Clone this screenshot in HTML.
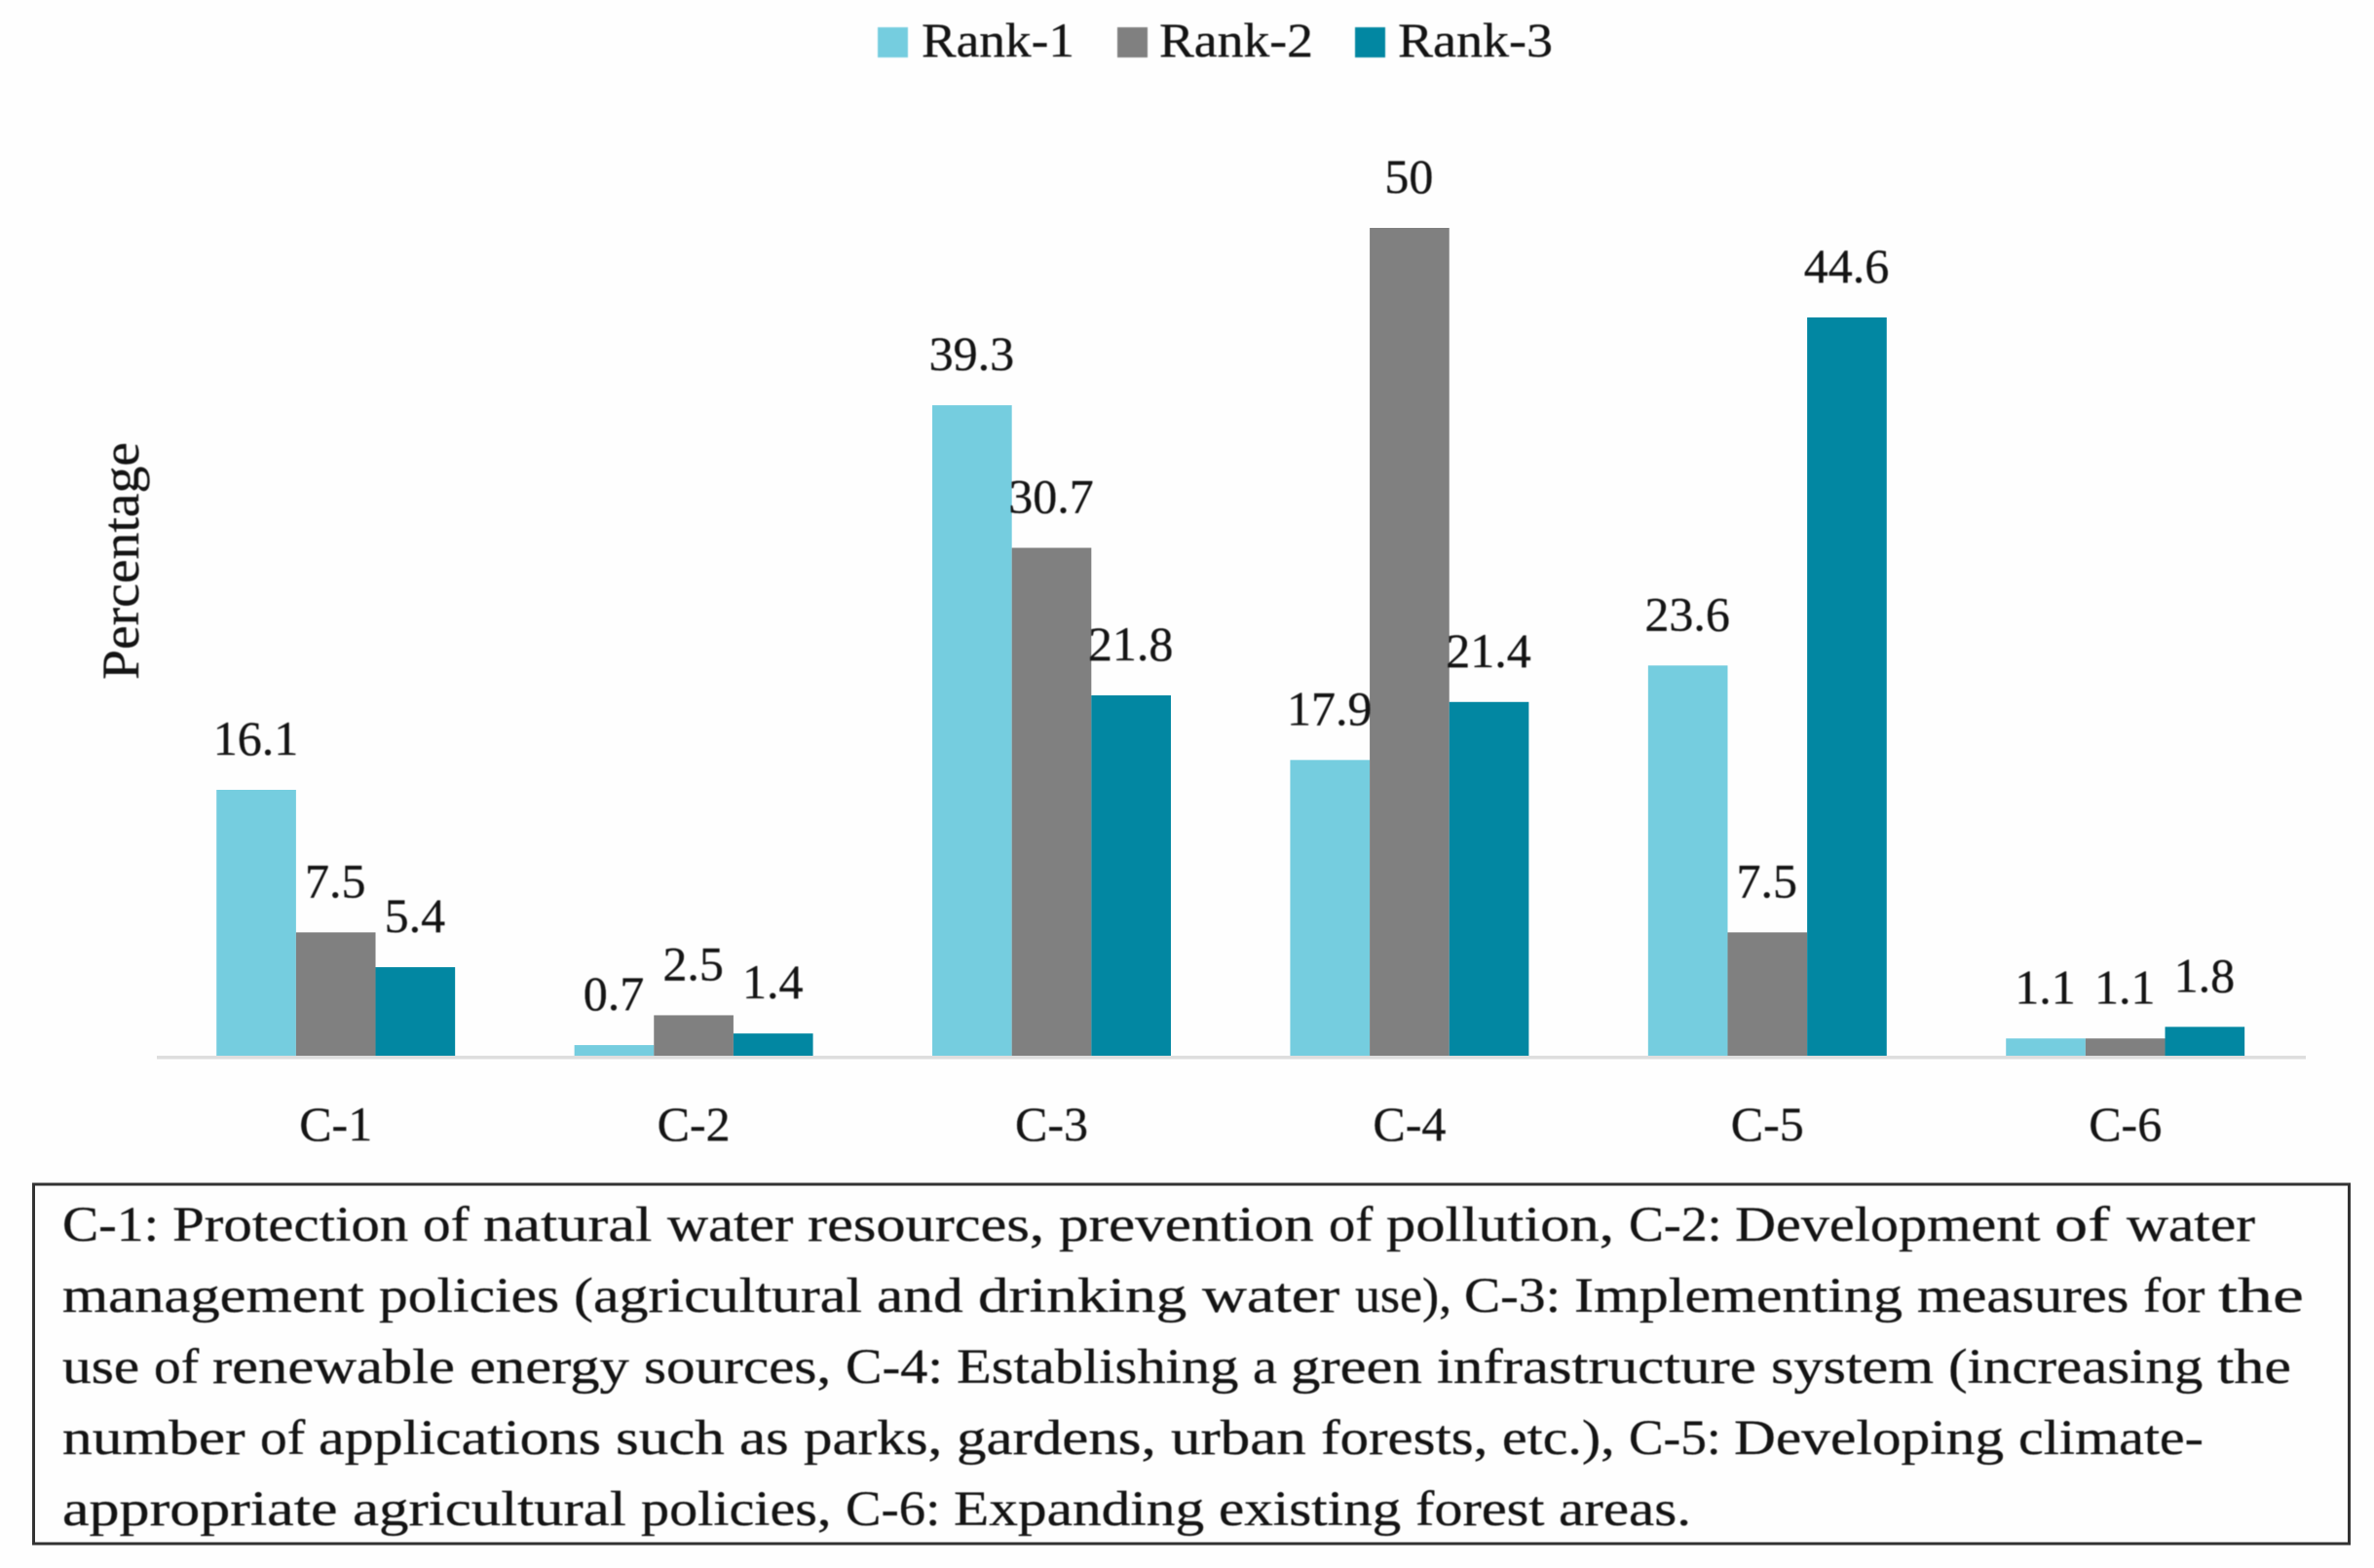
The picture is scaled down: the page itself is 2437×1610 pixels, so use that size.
<!DOCTYPE html>
<html lang="en">
<head>
<meta charset="utf-8">
<title>Rank percentages by criterion</title>
<style>
html,body{margin:0;padding:0;background:#fff;}
svg{display:block;}
text{font-family:"Liberation Serif",serif;fill:#141414;stroke:#141414;stroke-width:0.3px;}
.t50{font-size:50px;}
.note{font-size:51px;}
.ytitle{font-size:54px;}
.soft{filter:blur(0.6px);}
tspan{white-space:pre;}
</style>
</head>
<body>
<svg id="chart" xmlns="http://www.w3.org/2000/svg" width="2437" height="1610" viewBox="0 0 2437 1610">
  <rect x="0" y="0" width="2437" height="1610" fill="#fefefe"/>
  <g class="soft">
    <g>
      <rect x="901" y="28" width="31" height="31" fill="#75CDDF"/>
      <text class="t50" x="946" y="58" textLength="157" lengthAdjust="spacingAndGlyphs">Rank-1</text>
    </g>
    <g>
      <rect x="1147" y="28" width="31" height="31" fill="#808080"/>
      <text class="t50" x="1190" y="58" textLength="158" lengthAdjust="spacingAndGlyphs">Rank-2</text>
    </g>
    <g>
      <rect x="1391" y="28" width="31" height="31" fill="#0287A2"/>
      <text class="t50" x="1435" y="58" textLength="159" lengthAdjust="spacingAndGlyphs">Rank-3</text>
    </g>
  </g>
  <text class="ytitle soft" transform="translate(142,698) rotate(-90)" x="0" y="0" textLength="244" lengthAdjust="spacingAndGlyphs">Percentage</text>
  <g id="plot"></g>
  <g>
    <rect x="34.5" y="1216" width="2377" height="369" fill="none" stroke="#333" stroke-width="3"/>
    <g class="soft">
      <text class="note" y="1274"><tspan x="64" textLength="113" lengthAdjust="spacingAndGlyphs">C-1: </tspan><tspan x="177" textLength="257" lengthAdjust="spacingAndGlyphs">Protection </tspan><tspan x="434" textLength="62" lengthAdjust="spacingAndGlyphs">of </tspan><tspan x="496" textLength="189" lengthAdjust="spacingAndGlyphs">natural </tspan><tspan x="685" textLength="144" lengthAdjust="spacingAndGlyphs">water </tspan><tspan x="829" textLength="258" lengthAdjust="spacingAndGlyphs">resources, </tspan><tspan x="1087" textLength="277" lengthAdjust="spacingAndGlyphs">prevention </tspan><tspan x="1364" textLength="59" lengthAdjust="spacingAndGlyphs">of </tspan><tspan x="1423" textLength="249" lengthAdjust="spacingAndGlyphs">pollution, </tspan><tspan x="1672" textLength="109" lengthAdjust="spacingAndGlyphs">C-2: </tspan><tspan x="1781" textLength="328" lengthAdjust="spacingAndGlyphs">Development </tspan><tspan x="2109" textLength="74" lengthAdjust="spacingAndGlyphs">of </tspan><tspan x="2183" textLength="132" lengthAdjust="spacingAndGlyphs">water</tspan></text>
      <text class="note" y="1347"><tspan x="64" textLength="325" lengthAdjust="spacingAndGlyphs">management </tspan><tspan x="389" textLength="200" lengthAdjust="spacingAndGlyphs">policies </tspan><tspan x="589" textLength="311" lengthAdjust="spacingAndGlyphs">(agricultural </tspan><tspan x="900" textLength="104" lengthAdjust="spacingAndGlyphs">and </tspan><tspan x="1004" textLength="230" lengthAdjust="spacingAndGlyphs">drinking </tspan><tspan x="1234" textLength="157" lengthAdjust="spacingAndGlyphs">water </tspan><tspan x="1391" textLength="112" lengthAdjust="spacingAndGlyphs">use), </tspan><tspan x="1503" textLength="113" lengthAdjust="spacingAndGlyphs">C-3: </tspan><tspan x="1616" textLength="352" lengthAdjust="spacingAndGlyphs">Implementing </tspan><tspan x="1968" textLength="232" lengthAdjust="spacingAndGlyphs">measures </tspan><tspan x="2200" textLength="77" lengthAdjust="spacingAndGlyphs">for </tspan><tspan x="2277" textLength="88" lengthAdjust="spacingAndGlyphs">the</tspan></text>
      <text class="note" y="1420"><tspan x="64" textLength="94" lengthAdjust="spacingAndGlyphs">use </tspan><tspan x="158" textLength="60" lengthAdjust="spacingAndGlyphs">of </tspan><tspan x="218" textLength="264" lengthAdjust="spacingAndGlyphs">renewable </tspan><tspan x="482" textLength="179" lengthAdjust="spacingAndGlyphs">energy </tspan><tspan x="661" textLength="207" lengthAdjust="spacingAndGlyphs">sources, </tspan><tspan x="868" textLength="114" lengthAdjust="spacingAndGlyphs">C-4: </tspan><tspan x="982" textLength="304" lengthAdjust="spacingAndGlyphs">Establishing </tspan><tspan x="1286" textLength="39" lengthAdjust="spacingAndGlyphs">a </tspan><tspan x="1325" textLength="150" lengthAdjust="spacingAndGlyphs">green </tspan><tspan x="1475" textLength="343" lengthAdjust="spacingAndGlyphs">infrastructure </tspan><tspan x="1818" textLength="182" lengthAdjust="spacingAndGlyphs">system </tspan><tspan x="2000" textLength="276" lengthAdjust="spacingAndGlyphs">(increasing </tspan><tspan x="2276" textLength="76" lengthAdjust="spacingAndGlyphs">the</tspan></text>
      <text class="note" y="1493"><tspan x="64" textLength="203" lengthAdjust="spacingAndGlyphs">number </tspan><tspan x="267" textLength="60" lengthAdjust="spacingAndGlyphs">of </tspan><tspan x="327" textLength="305" lengthAdjust="spacingAndGlyphs">applications </tspan><tspan x="632" textLength="127" lengthAdjust="spacingAndGlyphs">such </tspan><tspan x="759" textLength="66" lengthAdjust="spacingAndGlyphs">as </tspan><tspan x="825" textLength="157" lengthAdjust="spacingAndGlyphs">parks, </tspan><tspan x="982" textLength="220" lengthAdjust="spacingAndGlyphs">gardens, </tspan><tspan x="1202" textLength="154" lengthAdjust="spacingAndGlyphs">urban </tspan><tspan x="1356" textLength="186" lengthAdjust="spacingAndGlyphs">forests, </tspan><tspan x="1542" textLength="130" lengthAdjust="spacingAndGlyphs">etc.), </tspan><tspan x="1672" textLength="108" lengthAdjust="spacingAndGlyphs">C-5: </tspan><tspan x="1780" textLength="292" lengthAdjust="spacingAndGlyphs">Developing </tspan><tspan x="2072" textLength="190" lengthAdjust="spacingAndGlyphs">climate-</tspan></text>
      <text class="note" y="1566"><tspan x="64" textLength="298" lengthAdjust="spacingAndGlyphs">appropriate </tspan><tspan x="362" textLength="296" lengthAdjust="spacingAndGlyphs">agricultural </tspan><tspan x="658" textLength="210" lengthAdjust="spacingAndGlyphs">policies, </tspan><tspan x="868" textLength="111" lengthAdjust="spacingAndGlyphs">C-6: </tspan><tspan x="979" textLength="272" lengthAdjust="spacingAndGlyphs">Expanding </tspan><tspan x="1251" textLength="202" lengthAdjust="spacingAndGlyphs">existing </tspan><tspan x="1453" textLength="147" lengthAdjust="spacingAndGlyphs">forest </tspan><tspan x="1600" textLength="136" lengthAdjust="spacingAndGlyphs">areas.</tspan></text>
    </g>
  </g>
</svg>
<script>
const categories = ["C-1", "C-2", "C-3", "C-4", "C-5", "C-6"];
const rank1Values = [16.1, 0.7, 39.3, 17.9, 23.6, 1.1];
const rank2Values = [7.5, 2.5, 30.7, 50, 7.5, 1.1];
const rank3Values = [5.4, 1.4, 21.8, 21.4, 44.6, 1.8];

const SVG_NS = "http://www.w3.org/2000/svg";
const plot = document.getElementById("plot");
const seriesList = [
  { key: "rank-1", values: rank1Values, color: "#75CDDF" },
  { key: "rank-2", values: rank2Values, color: "#808080" },
  { key: "rank-3", values: rank3Values, color: "#0287A2" }
];
const plotLeft = 161;
const axisRight = 2367;
const bandWidth = 367.4;
const axisY = 1084;
const zeroY = 1085;
const pxPerUnit = 17.02;
const barWidth = bandWidth / 4.5;
const groupInset = barWidth * 0.75;

function xBand(categoryIndex) {
  return plotLeft + bandWidth * categoryIndex;
}
function xBar(categoryIndex, seriesIndex) {
  return xBand(categoryIndex) + groupInset + barWidth * seriesIndex;
}
function yValue(value) {
  return zeroY - value * pxPerUnit;
}

const axisLine = document.createElementNS(SVG_NS, "rect");


axisLine.setAttribute("x", plotLeft);
axisLine.setAttribute("y", axisY);
axisLine.setAttribute("width", axisRight - plotLeft);
axisLine.setAttribute("height", 3.5);
axisLine.setAttribute("fill", "#dedede");
plot.appendChild(axisLine);

seriesList.forEach(function (series, seriesIndex) {
  series.values.forEach(function (value, categoryIndex) {
    const bar = document.createElementNS(SVG_NS, "rect");
    
    
    bar.setAttribute("x", xBar(categoryIndex, seriesIndex));
    bar.setAttribute("y", yValue(value));
    bar.setAttribute("width", barWidth);
    bar.setAttribute("height", Math.max(0, axisY - yValue(value)));
    bar.setAttribute("fill", series.color);
    plot.appendChild(bar);
  });
});

seriesList.forEach(function (series, seriesIndex) {
  series.values.forEach(function (value, categoryIndex) {
    const label = document.createElementNS(SVG_NS, "text");
    
    
    label.setAttribute("class", "t50 soft");
    label.setAttribute("x", xBar(categoryIndex, seriesIndex) + barWidth / 2 - 0.5);
    label.setAttribute("y", yValue(value) - 36);
    label.setAttribute("text-anchor", "middle");
    label.textContent = String(value);
    plot.appendChild(label);
  });
});

categories.forEach(function (category, categoryIndex) {
  const tick = document.createElementNS(SVG_NS, "text");
  
  
  tick.setAttribute("class", "t50 soft");
  tick.setAttribute("x", xBand(categoryIndex) + bandWidth / 2);
  tick.setAttribute("y", 1171);
  tick.setAttribute("text-anchor", "middle");
  tick.textContent = category;
  plot.appendChild(tick);
});
</script>
</body>
</html>
